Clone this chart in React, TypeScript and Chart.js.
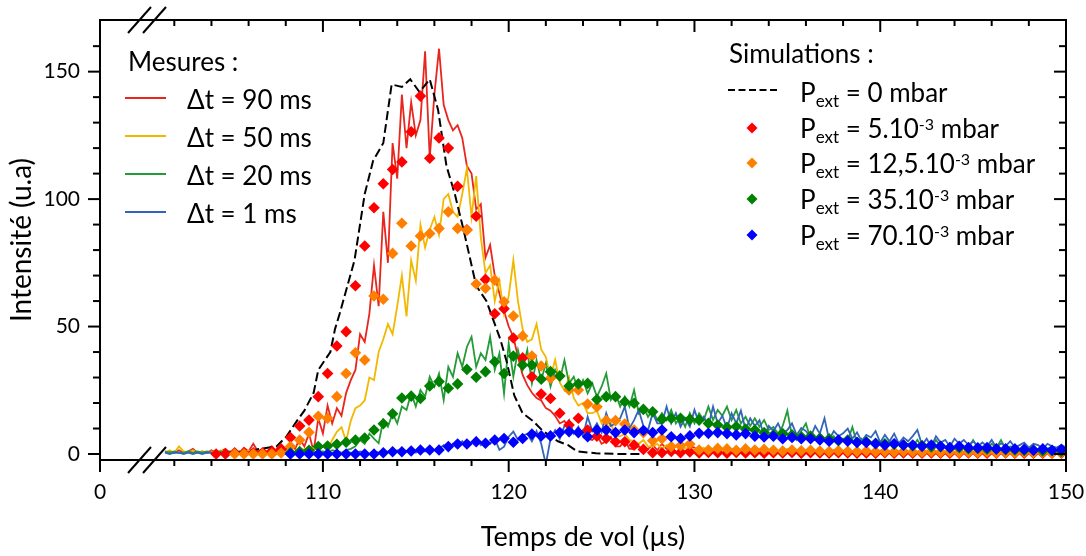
import React, { useEffect, useRef } from 'react';
import { Chart, registerables } from 'chart.js';
Chart.register(...registerables);

// ---------- measured signals (time step 0.25 µs from 101.5 µs) ----------
const MEAS_T0 = 101.5;
const MEAS_DT = 0.25;

const meas90 = [
  0.5, 1, 0.5, 1.5, 0.5, 1, 2, 0.5,
  1, 0.5, 1.5, 0.5, 1, 2, 0.5, 1,
  0.5, 2.5, 1, 4, 1, 2, 1, 3,
  1, 2.5, 1.5, 4, 2, 6, 3, 8,
  1, 14, 8, 19, 12, 18, 15, 24,
  29, 33, 47, 44, 55, 74, 58, 95,
  75, 122, 108, 141, 120, 138, 125, 131,
  158, 116, 141, 159, 137, 131, 127, 129,
  124, 113, 110, 96, 98, 77, 82, 70,
  63, 56, 50, 46, 38, 31, 27, 24,
  22, 21, 18, 17, 15, 12, 13, 10,
  9, 7, 9, 6, 5.5, 7.5, 4, 5,
  6.8, 3, 3, 5.5, 2, 2, 3, 1.5,
  2, 3.5, 1.5, 4, 2, 3, 0.5, 2.5,
  1, 3, 2.5, 0.5, 1, 0.5, 1.5, 0.5,
  1, 0.5, 2, 0.5, 1, 0.5, 1.5, 0.5,
  0.5, 1.5, 0.5, 1, 0.5, 2, 0.5, 1,
  0.5, 1, 0.5, 1.5, 0.5, 1, 0.5, 0.5,
  1.5, 0.5, 1, 0.5, 0.5, 1, 0.5, 1.5,
  0.5, 1, 0.5, 0.5, 1, 0.5, 1, 0.5,
  0.5, 1.5, 0.5, 1, 0.5, 0.5, 1, 0.5,
  1, 0.5, 0.5, 1, 0.5, 1.5, 0.5, 0.5,
  1, 0.5, 0.5, 1, 0.5, 0.5, 1, 0.5,
  0.5, 1, 0.5, 0.5, 2, 0.5, 0.5, 1,
  0.5, 1, 0.5,
];

const meas50 = [
  0.5, 1.5, 0.5, 3, 1, 0.5, 1.5, 0.5,
  1, 0.5, 1, 0.5, 1.5, 0.5, 1, 0.5,
  1, 0.5, 1.5, 0.5, 1, 0.5, 1, 2,
  0.5, 1, 0.5, 1.5, 0.5, 1, 2, 1,
  2.5, 1.5, 3, 2, 5.5, 8.7, 10.5, 5,
  13, 18, 19, 21, 30, 29, 40, 45,
  51, 47, 58, 70, 54, 76, 68, 90,
  81, 88, 93, 86, 100, 102, 95, 93,
  102, 112, 93, 109, 85, 71, 74, 60,
  68, 55, 62, 76, 60, 49, 44, 45,
  51, 41, 38, 30, 37, 28, 25, 30,
  22, 19, 20, 16, 16, 17, 12, 9.4,
  12, 7, 7, 8, 5.5, 5, 4, 5.5,
  3, 3, 4, 2, 3.5, 2, 3, 1.5,
  2.5, 1.5, 2, 1, 2.5, 1, 1.5, 2,
  1, 1.5, 0.5, 2, 1, 1.5, 0.5, 1,
  2, 0.5, 1, 1.5, 0.5, 1, 2, 0.5,
  1, 0.5, 1.5, 0.5, 1, 0.5, 1, 1.5,
  0.5, 1, 0.5, 1.5, 0.5, 1, 0.5, 0.5,
  1, 0.5, 1.5, 0.5, 0.5, 1, 0.5, 1,
  0.5, 0.5, 1, 0.5, 1.5, 0.5, 0.5, 1,
  0.5, 1, 0.5, 0.5, 1, 0.5, 1, 0.5,
  0.5, 1, 0.5, 0.5, 1, 0.5, 0.5, 1,
  0.5, 0.5, 1, 0.5, 0.5, 1, 0.5, 0.5,
  1, 0.5, 0.5,
];

const meas20 = [
  1, 0.5, 1, 0.5, 0.5, 1, 0.5, 1,
  0.5, 1, 0.5, 0.5, 1, 0.5, 1, 0.5,
  1, 0.5, 0.5, 1, 0.5, 1, 0.5, 1,
  0.5, 1, 0.5, 1, 0.5, 1, 0.5, 1,
  0.5, 1, 1, 0.5, 1.5, 1, 0.5, 1.5,
  2, 3, 5.5, 4, 8, 6, 4.2, 13.4,
  10.7, 15.9, 12, 18.6, 17.3, 23.8, 18.6, 25.1,
  22.5, 30.3, 26.4, 31.6, 21.2, 34.2, 30.3, 39.5,
  34.2, 42, 46, 34.2, 39.5, 36.9, 46, 33,
  39.5, 23.7, 43.4, 30.3, 40.8, 33, 40.8, 27.7,
  36.8, 29, 35.5, 26.4, 33, 29, 36.8, 27.7,
  30.3, 25.1, 29, 23.8, 27.7, 22.5, 26.4, 31.6,
  21.2, 23.8, 18.6, 22.5, 18.6, 25.1, 16, 18.6,
  14.6, 17.3, 13.3, 16, 13.3, 17.3, 12, 14.6,
  10.7, 16, 12, 16, 13.3, 18.6, 13.3, 17.3,
  15, 18.6, 13.3, 17.3, 12, 14.6, 11, 14,
  10.7, 13.3, 9.4, 10.6, 8, 11, 17, 7,
  5.5, 9, 12, 6, 5.5, 8, 6, 4.2,
  7, 4.2, 6, 5, 10.6, 4.2, 6, 3.5,
  4.2, 5.5, 3.5, 2.9, 5, 3, 4, 2.5,
  4, 3, 5.5, 2.5, 3.5, 2.5, 5.5, 3,
  2.5, 4, 2, 4.2, 3, 2, 5.5, 2.5,
  3, 2, 4, 2.5, 5.5, 2, 3, 2.5,
  1.5, 3.5, 2, 2.5, 1.5, 3, 2, 2.9,
  1.5, 2.5, 1.5,
];

const meas1 = [
  0.5, 0, 0.5, 0.5, 0, 0.5, 0, 0.5,
  0, 0.5, 0.5, 0, 0.5, 0, 0.5, 0,
  0.5, 0, 0.5, 0.5, 0, 0.5, 0, 0.5,
  0, 0.5, 0, 0.5, 0.5, 0, 0.5, 0,
  0.5, 0, 0.5, 0, 0.5, 0.5, 0, 0.5,
  0.5, 0, 1, 0.5, 0, 1, 0.5, 0,
  1, 0.5, 1.5, 0.5, 1, 2, 0.5, 1.5,
  1, 2.5, 1.5, 2, 3.5, 2, 4, 2.5,
  5, 3, 4.5, 6.5, 3.5, 5, 4, 6,
  1.6, 2.9, 6.8, 8.8, 5.5, 7, 8, 5,
  9, 4, -4, 6, 9.4, 6, 11, 13.3,
  8, 10.7, 7, 14.6, 9, 12, 8.5, 16,
  11, 12, 14, 18.6, 10, 13.3, 17.3, 11,
  9.4, 16, 12, 12, 18.6, 12, 16, 10.7,
  14, 10.7, 17.3, 12, 14.6, 11, 18.6, 12,
  15, 10, 16, 12, 17, 9.5, 14, 11,
  13.3, 6.8, 11, 9, 12, 8, 9.4, 12,
  7.5, 10.2, 9, 6.5, 11, 8, 14, 5.5,
  9, 7, 8.1, 10, 6, 8.5, 5, 7.5,
  6.5, 9, 4.5, 7.5, 5, 8, 4.2, 6.5,
  5, 7, 9.4, 3.5, 6, 2.9, 7, 4.5,
  5.5, 3, 6, 4, 5.5, 3.5, 5, 3,
  4.5, 3, 5.5, 2.5, 4.2, 3, 5, 2.5,
  3.5, 4.5, 2.5, 4, 3.5, 2, 4, 3,
  2.5, 3.5, 2.5,
];

// ---------- simulations ----------
const sim0Times = [
  104, 105, 106, 106.6, 107.5, 108.05, 108.6, 109.0, 109.5, 109.75,
  110.4, 110.65, 110.9, 111.7, 112.25, 112.7, 113.25, 113.7, 114.25, 114.7,
  115.2, 115.75, 116.2, 116.65, 117.1, 117.6, 118.25, 118.8, 119.3, 119.55,
  119.9, 120.3, 120.75, 121.3, 121.85, 122.65, 123.2, 123.7, 124.7, 126, 127.2,
];
const sim0Values = [
  0, 0.5, 1, 2, 3, 7, 13, 17, 24, 33,
  40, 49, 55, 76, 102, 115, 122, 145, 144, 147,
  142, 147, 135, 113, 102, 87, 66, 60, 50, 45,
  36, 23, 16, 13, 9, 5, 3.5, 1, 0.3, 0, 0,
];

const SIM_DT = 0.5;
const sim5T0 = 104.25;
const sim5 = [
  0, 0, 0.5, 0.3, 0.5, 0.5, 1, 2, 6.5, 11,
  13.3, 22.5, 31.6, 42.4, 48, 66, 81.6, 96.6, 106, 111.6,
  114.6, 126.4, 140.4, 116, 124, 120, 105, 88, 93.3, 68.5,
  55, 57, 45.5, 37.7, 30.3, 23.5, 21.8, 16, 11.4, 14,
  9.4, 7, 6.1, 4.8, 4.8, 3.5, 1.8, 0.5, 0.5, 1,
  0.5, 0.8, 0.4, 0.6, 0.5, 0.3, 0.6, 0.4, 0.5, 0.3,
  0.5, 0.4, 0.6, 0.3, 0.5, 0.4, 0.3, 0.5, 0.4, 0.3,
  0.4, 0.3, 0.5, 0.3, 0.4, 0.3, 0.3, 0.4, 0.3, 0.3,
  0.3, 0.4, 0.3, 0.3, 0.3, 0.4, 0.3, 0.3, 0.3, 0.3,
  0.3, 0.3,
];

const sim12T0 = 105.25;
const sim12 = [
  0, 0, 0, 0, 0, 0.4, 2.9, 5.5,
  8.5, 14.8, 14, 22.5, 31.6, 39.7, 36.9, 62, 60.7, 78.7,
  90.5, 81.6, 85.5, 86.5, 88.5, 95, 88.5, 87.8, 66.7, 65,
  68.2, 59.7, 54.1, 46.3, 38.4, 34.5, 29.7, 30.6, 25.1, 25.1,
  19.6, 18.5, 13.1, 13.1, 11.8, 9.4, 8.4, 5.2, 6, 2.9,
  3.3, 3.9, 1.6, 1.6, 2.2, 2, 1.5, 2, 1.6, 1.8,
  1.5, 1.2, 1.6, 1.3, 1.5, 1.2, 1, 1.3, 1.1, 1,
  1.2, 0.9, 1, 0.8, 1, 0.8, 0.7, 0.9, 0.7, 0.8,
  0.6, 0.7, 0.6, 0.8, 0.5, 0.6, 0.5, 0.7, 0.5, 0.6,
  0.4, 0.5,
];

const sim35T0 = 108.25;
const sim35 = [
  0.5, 1, 1.5, 2.9, 3.1, 3.8, 4.6, 5.5, 6.3, 9.4,
  11.9, 15.8, 22, 22.7, 21.8, 26.7, 28.4, 25.8, 27.5, 33.2,
  30.1, 32.3, 36.2, 31.6, 38.4, 34.9, 34.9, 29.3, 32.3, 30.6,
  26.7, 27.5, 27.7, 21.4, 22.5, 22.5, 20.5, 19.9, 17.5, 16.6,
  13.6, 14, 14, 13.6, 13.3, 12, 11.4, 10.5, 10.8, 9.8,
  9.4, 8.4, 7.5, 8, 7.5, 6.8, 7, 6.2, 6, 5.2,
  5.5, 4.6, 4.8, 4.2, 4, 3.8, 3.5, 3.2, 3.3, 2.8,
  2.9, 2.4, 2.5, 2.1, 2.2, 1.9, 2, 1.7, 1.6, 1.4,
  1.5, 1.2, 1.3, 1.0,
];

const sim70T0 = 108.25;
const sim70 = [
  0, 0, 0, 0, 0, 0, 0, 0, 0, 0,
  0.5, 0.9, 0.9, 1.2, 1.6, 1.6, 1.6, 2.9, 3.9, 3.9,
  4.8, 4.2, 5.5, 6.1, 4.6, 6.1, 7.8, 7.1, 7.1, 8.4,
  8.8, 8.4, 6.8, 9.4, 9.4, 8.4, 9.4, 8.4, 9.2, 8.4,
  9.4, 6.8, 6.1, 7.1, 8.1, 8.1, 8.4, 8, 7.5, 8,
  7, 6.7, 7, 6, 6.5, 6, 6, 5.5, 5, 5.5,
  5, 4.5, 4.5, 4, 3.5, 4, 3.5, 3.5, 3, 3.5,
  3, 2.5, 3, 2.5, 2.4, 2.5, 2, 2, 2, 1.8,
  1.5, 2, 1.5, 1.8,
];

// ---------- axes ----------
const X_MIN = 98;
const X_MAX = 150;
const Y_MIN = -2.35;
const Y_MAX = 170.26;
const xTickValues = [98, 110, 120, 130, 140, 150];
const xTickLabels = ['0', '110', '120', '130', '140', '150'];
const xMinorTicks = [102, 104, 106, 108, 112, 114, 116, 118, 122, 124, 126, 128, 132, 134, 136, 138, 142, 144, 146, 148];
const xMajorTicks = [110, 120, 130, 140, 150];
const yTickValues = [0, 50, 100, 150];
const yMinorTicks = [10, 20, 30, 40, 60, 70, 80, 90, 110, 120, 130, 140, 160];

// ---------- colours / legend ----------
const C_RED_LINE = '#e8261e';
const C_YELLOW_LINE = '#f2b800';
const C_GREEN_LINE = '#259a38';
const C_BLUE_LINE = '#3364bb';
const C_RED_PT = '#ff0000';
const C_ORANGE_PT = '#ff8000';
const C_GREEN_PT = '#008000';
const C_BLUE_PT = '#0000ff';

const measuredLegend = [
  { label: 'Δt = 90 ms', color: C_RED_LINE },
  { label: 'Δt = 50 ms', color: C_YELLOW_LINE },
  { label: 'Δt = 20 ms', color: C_GREEN_LINE },
  { label: 'Δt = 1 ms', color: C_BLUE_LINE },
];
const simLegend = [
  { mant: '5.10', color: C_RED_PT },
  { mant: '12,5.10', color: C_ORANGE_PT },
  { mant: '35.10', color: C_GREEN_PT },
  { mant: '70.10', color: C_BLUE_PT },
];

const FONT = 'Lato';

const series = (t0: number, dt: number, vals: number[]) =>
  vals.map((v, i) => ({ x: Math.round((t0 + i * dt) * 1000) / 1000, y: v }));

const lineDs = (label: string, data: any[], color: string, order: number) => ({
  label, data, showLine: true, borderColor: color, backgroundColor: color,
  borderWidth: 1.8, pointRadius: 0, pointHoverRadius: 0, tension: 0, fill: false, order,
});

const diamondDs = (label: string, data: any[], color: string, order: number) => ({
  label, data, showLine: false, pointStyle: 'rectRot', pointRadius: 5.8, pointHoverRadius: 5.8,
  pointBackgroundColor: color, pointBorderColor: color, pointBorderWidth: 0,
  backgroundColor: color, borderColor: color, order,
});

const zeroPad = (s: any) => {
  s.paddingLeft = 0; s.paddingRight = 0; s.paddingTop = 0; s.paddingBottom = 0;
};

const framePlugin = {
  id: 'framePlugin',
  afterDraw(chart: any) {
    const { ctx, chartArea: a, scales } = chart;
    const x = scales.x;
    const y = scales.y;
    ctx.save();
    ctx.strokeStyle = '#000';
    ctx.lineWidth = 2;
    ctx.lineCap = 'butt';
    const line = (x1: number, y1: number, x2: number, y2: number) => {
      ctx.beginPath(); ctx.moveTo(x1, y1); ctx.lineTo(x2, y2); ctx.stroke();
    };
    ctx.strokeRect(a.left, a.top, a.right - a.left, a.bottom - a.top);
    for (const v of xMinorTicks) {
      const p = x.getPixelForValue(v);
      line(p, a.bottom, p, a.bottom + 6);
      line(p, a.top, p, a.top + 6);
    }
    for (const v of xMajorTicks) {
      const p = x.getPixelForValue(v);
      line(p, a.bottom, p, a.bottom + 12);
      line(p, a.top, p, a.top + 12);
    }
    line(a.left, a.bottom, a.left, a.bottom + 12);
    for (const v of yMinorTicks) {
      const p = y.getPixelForValue(v);
      line(a.left - 7, p, a.left, p);
      line(a.right - 7, p, a.right, p);
    }
    for (const v of yTickValues) {
      const p = y.getPixelForValue(v);
      line(a.left - 12, p, a.left, p);
      line(a.right - 12, p, a.right, p);
    }
    for (const yy of [a.top, a.bottom]) {
      line(a.left + 28, yy + 13, a.left + 51, yy - 13);
      line(a.left + 43, yy + 13, a.left + 66, yy - 13);
    }
    ctx.restore();
  },
};

export default function App() {
  const ref = useRef<HTMLCanvasElement>(null);
  useEffect(() => {
    if (!ref.current) return;
    const chart = new Chart(ref.current, {
      type: 'scatter',
      data: {
        datasets: [
          diamondDs('P70', series(sim70T0, SIM_DT, sim70), C_BLUE_PT, 1),
          diamondDs('P35', series(sim35T0, SIM_DT, sim35), C_GREEN_PT, 2),
          diamondDs('P12.5', series(sim12T0, SIM_DT, sim12), C_ORANGE_PT, 3),
          diamondDs('P5', series(sim5T0, SIM_DT, sim5), C_RED_PT, 4),
          {
            label: 'P0', data: sim0Times.map((t, i) => ({ x: t, y: sim0Values[i] })),
            showLine: true, borderColor: '#000', borderWidth: 2, borderDash: [9, 4],
            pointRadius: 0, pointHoverRadius: 0, tension: 0, fill: false, order: 5,
          },
          lineDs('1 ms', series(MEAS_T0, MEAS_DT, meas1), C_BLUE_LINE, 6),
          lineDs('20 ms', series(MEAS_T0, MEAS_DT, meas20), C_GREEN_LINE, 7),
          lineDs('50 ms', series(MEAS_T0, MEAS_DT, meas50), C_YELLOW_LINE, 8),
          lineDs('90 ms', series(MEAS_T0, MEAS_DT, meas90), C_RED_LINE, 9),
        ] as any,
      },
      options: {
        animation: false,
        responsive: false,
        events: [],
        layout: { padding: { left: 0, right: 20, top: 20, bottom: 0 } },
        plugins: { legend: { display: false }, tooltip: { enabled: false } },
        scales: {
          x: {
            type: 'linear', min: X_MIN, max: X_MAX,
            afterFit: (s: any) => { s.height = 96; zeroPad(s); },
            afterBuildTicks: (s: any) => { s.ticks = xTickValues.map((v) => ({ value: v })); },
            ticks: {
              autoSkip: false, maxRotation: 0, padding: 20, color: '#000',
              font: { size: 21, family: FONT },
              callback: (v: any) => { const i = xTickValues.indexOf(Number(v)); return i >= 0 ? xTickLabels[i] : ''; },
            },
            grid: { display: false, drawTicks: false },
            border: { display: false },
            title: {
              display: true, text: 'Temps de vol (µs)', color: '#000',
              font: { size: 27, family: FONT }, padding: { top: 0, bottom: 3 },
            },
          },
          y: {
            type: 'linear', min: Y_MIN, max: Y_MAX,
            afterFit: (s: any) => { s.width = 100; zeroPad(s); },
            afterBuildTicks: (s: any) => { s.ticks = yTickValues.map((v) => ({ value: v })); },
            ticks: { padding: 20, color: '#000', font: { size: 21, family: FONT } },
            grid: { display: false, drawTicks: false },
            border: { display: false },
            title: {
              display: true, text: 'Intensité (u.a)', color: '#000',
              font: { size: 28, family: FONT }, padding: { top: 5, bottom: 0 },
            },
          },
        },
      } as any,
      plugins: [framePlugin],
    });
    return () => chart.destroy();
  }, []);

  const txt: React.CSSProperties = {
    position: 'absolute', fontFamily: FONT, fontSize: 26, lineHeight: '30px',
    height: 30, whiteSpace: 'nowrap', color: '#000',
  };
  const sub: React.CSSProperties = { fontSize: 17, position: 'relative', top: 5 };
  const sup: React.CSSProperties = { fontSize: 16, position: 'relative', top: -8 };
  const simRowY = [92, 127.5, 163, 199, 234.5];

  return (
    <div style={{ position: 'fixed', left: 0, top: 0, width: 1086, height: 556, background: '#fff', overflow: 'hidden' }}>
      <canvas ref={ref} width={1086} height={556} style={{ position: 'absolute', left: 0, top: 0, width: 1086, height: 556 }} />
      <div style={{ ...txt, left: 128, top: 61 - 15 }}>Mesures :</div>
      {measuredLegend.map((it, i) => (
        <React.Fragment key={it.label}>
          <div style={{ position: 'absolute', left: 125, top: 97 + 38 * i, width: 41, height: 0, borderTop: `2px solid ${it.color}` }} />
          <div style={{ ...txt, left: 187, top: 99 + 38 * i - 15 }}>{it.label}</div>
        </React.Fragment>
      ))}
      <div style={{ ...txt, left: 729, top: 53 - 15 }}>Simulations :</div>
      <svg style={{ position: 'absolute', left: 728, top: simRowY[0] - 4, overflow: 'visible' }} width={52} height={4}>
        <line x1={0} y1={2} x2={51} y2={2} stroke="#000" strokeWidth={2} strokeDasharray="7 3.5" />
      </svg>
      <div style={{ ...txt, left: 800, top: simRowY[0] - 15 }}>
        P<span style={sub}>ext</span> = 0 mbar
      </div>
      {simLegend.map((it, i) => {
        const cy = simRowY[i + 1];
        return (
          <React.Fragment key={it.mant}>
            <svg style={{ position: 'absolute', left: 752 - 6, top: cy - 6 }} width={12} height={12}>
              <polygon points="6,0.5 11.5,6 6,11.5 0.5,6" fill={it.color} />
            </svg>
            <div style={{ ...txt, left: 800, top: cy - 15 }}>
              P<span style={sub}>ext</span> = {it.mant}<span style={sup}>-3</span> mbar
            </div>
          </React.Fragment>
        );
      })}
    </div>
  );
}
